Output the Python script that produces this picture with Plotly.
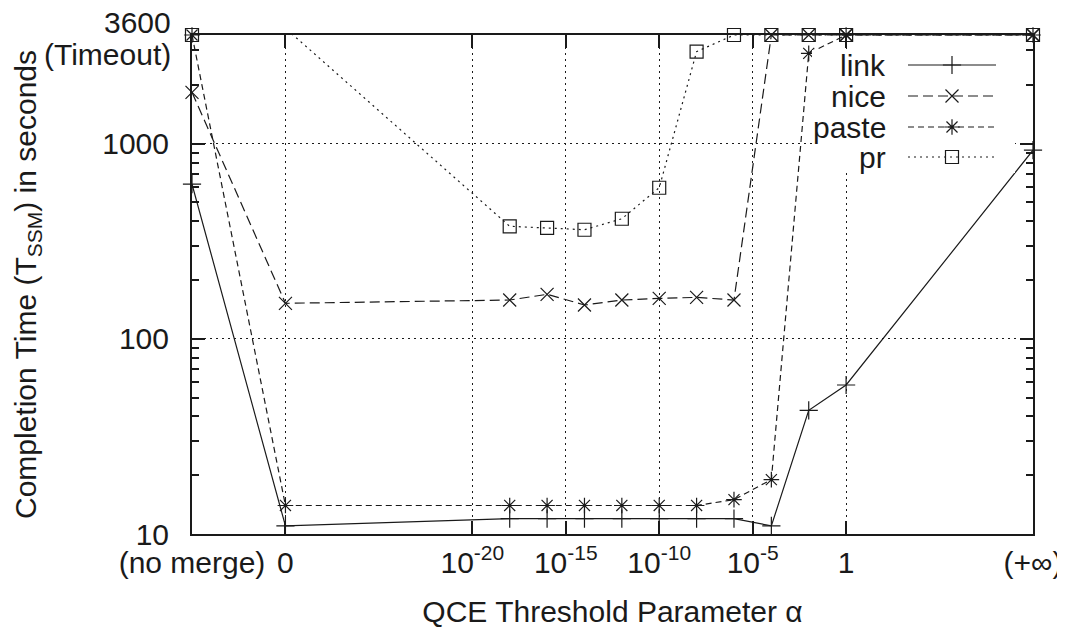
import math
import plotly.graph_objects as go

# ---------------- data ----------------
# alpha categories and their position on the log10(alpha) axis
alpha_labels = ["(no merge)", "0", "1e-18", "1e-16", "1e-14", "1e-12", "1e-10",
                "1e-8", "1e-6", "1e-4", "1e-2", "1", "(+inf)"]
alpha_log10 = [-35, -30, -18, -16, -14, -12, -10, -8, -6, -4, -2, 0, 10]

link = [620, 11, 12, 12, 12, 12, 12, 12, 12, 11, 43, 58, 925]
nice = [1830, 152, 158, 169, 149, 158, 161, 163, 158, 3600, 3600, 3600, 3600]
paste = [3600, 14, 14, 14, 14, 14, 14, 14, 15, 19, 2900, 3600, 3600]
pr = [3600, 3900, 377, 370, 362, 412, 594, 2960, 3600, 3600, 3600, 3600, 3600]

series_names = ["link", "nice", "paste", "pr"]

x_tick_vals = [-35, -30, -20, -15, -10, -5, 0, 10]
x_tick_text = ["(no merge)", "0", "10<sup>-20</sup>", "10<sup>-15</sup>",
               "10<sup>-10</sup>", "10<sup>-5</sup>", "1", "(+∞)"]
y_tick_vals = [10, 100, 1000]
y_tick_text = ["10", "100", "1000"]
y_top_label = ["3600", "(Timeout)"]
y_minor_vals = [20, 30, 40, 50, 60, 70, 80, 90,
                200, 300, 400, 500, 600, 700, 800, 900, 2000, 3000]

Y_MAX = 3600
X_MIN, X_MAX = -35, 10

# ---------------- styles ----------------
INK = "#1a1a1a"
FONT = "Liberation Sans, Arial, Helvetica, sans-serif"
styles = {
    "link": dict(dash="solid", symbol="cross-thin-open"),
    "nice": dict(dash="10px,5px", symbol="x-thin-open"),
    "paste": dict(dash="6px,4px", symbol="asterisk-open"),
    "pr": dict(dash="2px,4px", symbol="square-open"),
}
values = {"link": link, "nice": nice, "paste": paste, "pr": pr}

fig = go.Figure()

for name in series_names:
    st = styles[name]
    ys = values[name]
    # lines (clipped to plot area)
    fig.add_trace(go.Scatter(
        x=alpha_log10, y=ys, mode="lines", name=name, showlegend=False,
        line=dict(color=INK, width=1.2, dash=st["dash"]),
        xaxis="x", yaxis="y"))
    # markers (only points within the axis range, drawn unclipped)
    mx = [x for x, y in zip(alpha_log10, ys) if y <= Y_MAX]
    my = [y for y in ys if y <= Y_MAX]
    fig.add_trace(go.Scatter(
        x=mx, y=my, mode="markers", name=name, showlegend=False,
        cliponaxis=False,
        marker=dict(symbol=st["symbol"], size=13, color=INK,
                    line=dict(color=INK, width=1.2)),
        xaxis="x", yaxis="y"))

# ---------------- layout geometry ----------------
# page body has an 8px margin, so figure coords = window coords - 8
W, H = 1057, 620
PX_L, PX_R, PX_T, PX_B = 184, 1025, 27, 526
WL, WR, WT, WB = PX_L + 8, PX_R + 8, PX_T + 8, PX_B + 8


def paper_x(win_x):
    return (win_x - WL) / (WR - WL)


def paper_y(win_y):
    return (WB - win_y) / (WB - WT)


# ---------------- key (overlay in window-pixel coordinates) ----------------
key_rows = [65, 96, 127, 157]
key_x0, key_x1, key_mid, key_text_x = 908, 996, 952, 888
box_x = [812, 1015, 1015, 812, 812]
box_y = [50, 50, 173, 173, 50]

fig.add_trace(go.Scatter(
    x=box_x, y=box_y,
    mode="lines", fill="toself", fillcolor="white",
    line=dict(width=0, color="white"), showlegend=False, hoverinfo="skip",
    xaxis="x2", yaxis="y2"))

for name, ry in zip(series_names, key_rows):
    st = styles[name]
    fig.add_trace(go.Scatter(
        x=[key_x0, key_x1], y=[ry, ry], mode="lines", showlegend=False,
        line=dict(color=INK, width=1.2, dash=st["dash"]),
        xaxis="x2", yaxis="y2", hoverinfo="skip"))
    fig.add_trace(go.Scatter(
        x=[key_mid], y=[ry], mode="markers", showlegend=False,
        marker=dict(symbol=st["symbol"], size=13, color=INK,
                    line=dict(color=INK, width=1.2)),
        xaxis="x2", yaxis="y2", hoverinfo="skip"))
    fig.add_annotation(x=key_text_x, y=ry, xref="x2", yref="y2", text=name,
                       showarrow=False, xanchor="right", yanchor="middle",
                       font=dict(family=FONT, size=30, color=INK))

# top y label "3600 (Timeout)" as two lines, tighter than a tick label allows
for txt, wy in zip(y_top_label, [22, 54]):
    fig.add_annotation(x=paper_x(173), y=paper_y(wy), xref="paper", yref="paper",
                       text=txt, showarrow=False, xanchor="right",
                       yanchor="middle",
                       font=dict(family=FONT, size=30, color=INK))

axis_common = dict(
    showline=True, linecolor=INK, linewidth=2, mirror="ticks",
    ticks="inside", ticklen=13, tickwidth=1.5, tickcolor=INK,
    showgrid=True, gridcolor=INK, gridwidth=1, griddash="2px,4px",
    zeroline=False, automargin=False, ticklabeloverflow="allow",
    tickfont=dict(family=FONT, size=30, color=INK),
)

fig.update_layout(
    width=W, height=H,
    margin=dict(l=PX_L, r=W - PX_R, t=PX_T, b=H - PX_B),
    plot_bgcolor="white", paper_bgcolor="white",
    font=dict(family=FONT, size=30, color=INK),
    showlegend=False,
    xaxis=dict(
        range=[X_MIN, X_MAX], tickmode="array",
        tickvals=x_tick_vals, ticktext=x_tick_text,
        ticklabelstandoff=1,
        title=dict(text="QCE Threshold Parameter α", standoff=24,
                   font=dict(family=FONT, size=30, color=INK)),
        **axis_common),
    yaxis=dict(
        type="log", range=[1, math.log10(Y_MAX)], tickmode="array",
        tickvals=y_tick_vals, ticktext=y_tick_text,
        ticklabelstandoff=15,
        minor=dict(ticks="inside", ticklen=7, tickwidth=1.5, tickcolor=INK,
                   tickvals=y_minor_vals, showgrid=False),
        title=dict(text="Completion Time (T<sub>SSM</sub>) in seconds",
                   standoff=57, font=dict(family=FONT, size=30, color=INK)),
        **axis_common),
    xaxis2=dict(range=[WL, WR], overlaying="x", anchor="y2",
                visible=False, fixedrange=True),
    yaxis2=dict(range=[WB, WT], overlaying="y", anchor="x2",
                visible=False, fixedrange=True),
)

fig.write_html("out.html")
